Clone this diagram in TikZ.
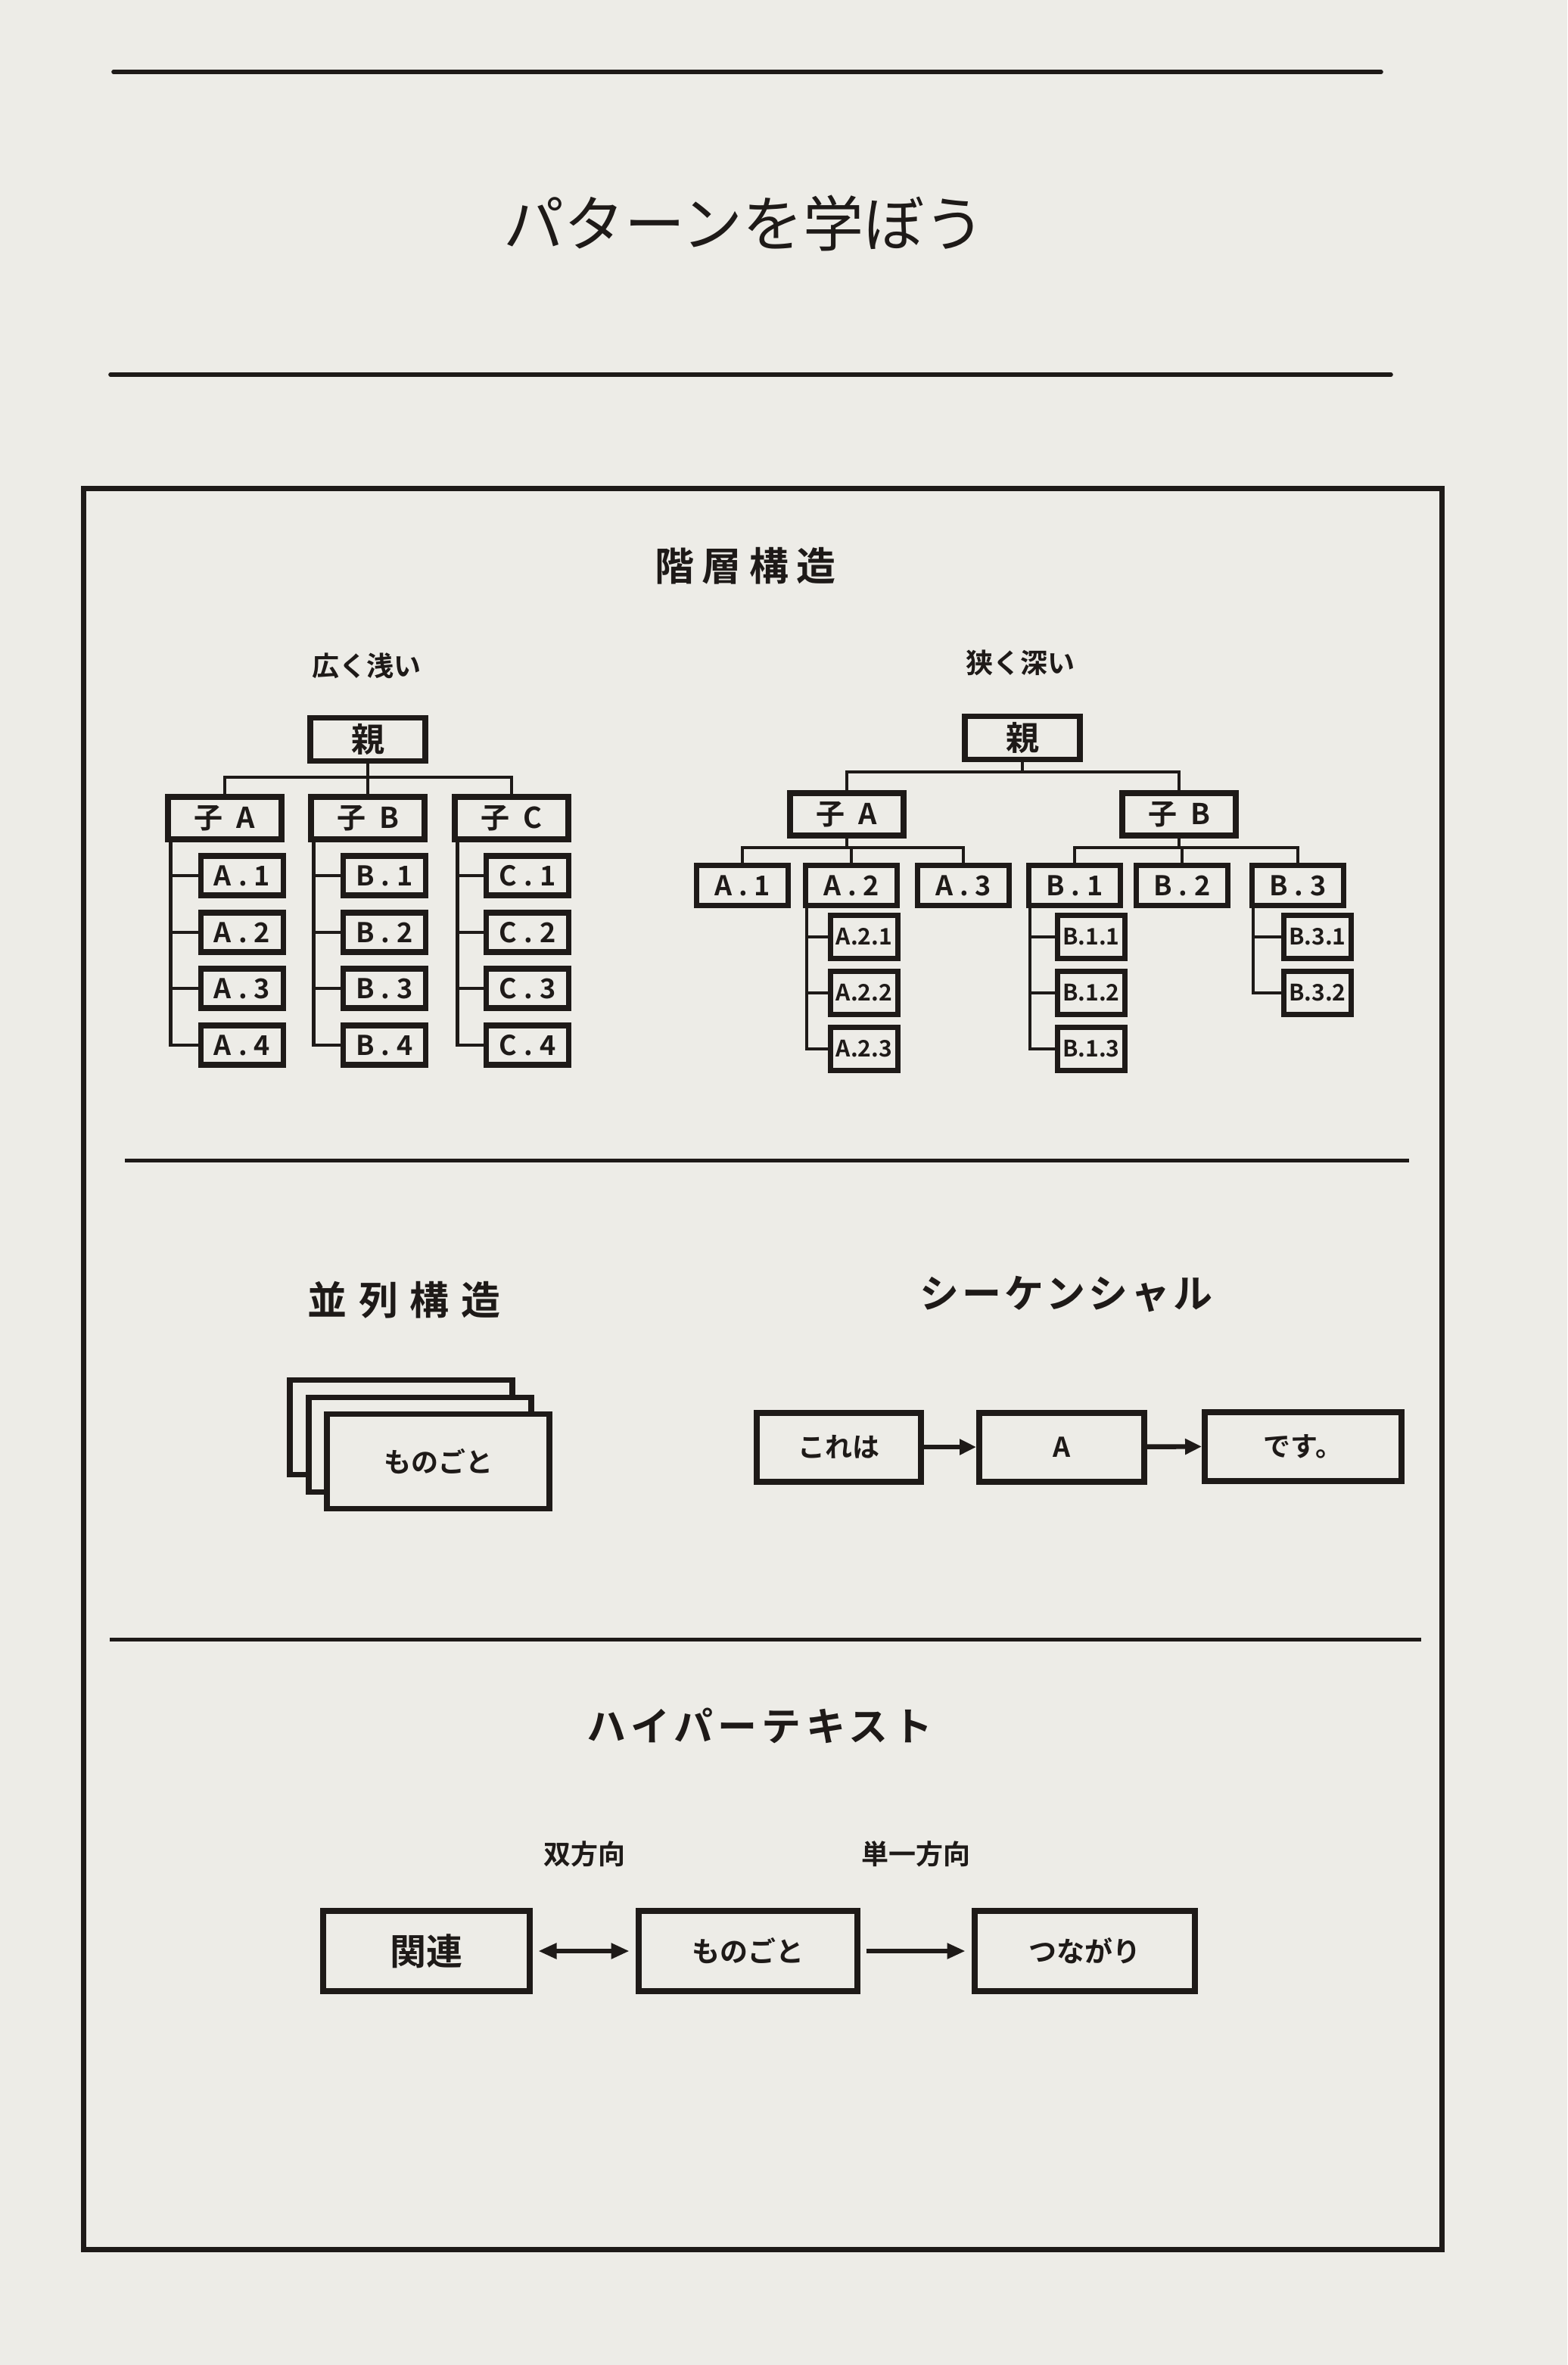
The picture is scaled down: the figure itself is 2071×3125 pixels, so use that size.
\documentclass[tikz,border=0pt]{standalone}
\usepackage{fontspec}
\usepackage{tikz}
\usetikzlibrary{arrows.meta}
\newfontfamily\jp{Noto Sans CJK JP}
\newfontfamily\jpb{Noto Sans CJK JP Bold}
\newfontfamily\jpl{Noto Sans CJK JP Bold}[LetterSpace=25]
\definecolor{paper}{HTML}{EDECE7}
\definecolor{ink}{HTML}{1E1A18}

\begin{document}
\begin{tikzpicture}[x=0.25pt,y=0.25pt,yscale=-1,xscale=1,
  box/.style={draw=ink, line width=1.8pt, fill=paper, inner sep=0pt, text=ink},
  oyabox/.style={box, minimum width=38pt, minimum height=14.25pt, font={\jpb\fontsize{11}{12}\selectfont}},
  kobox/.style={box, minimum width=37.5pt, minimum height=14pt, font={\jpl\fontsize{9.5}{10}\selectfont}},
  leafbox/.style={box, minimum width=27.25pt, minimum height=13pt, font={\jpl\fontsize{9}{10}\selectfont}},
  midbox/.style={box, minimum width=30.25pt, minimum height=13.25pt, font={\jpl\fontsize{9}{10}\selectfont}},
  tinybox/.style={box, minimum width=22.25pt, minimum height=14.25pt, font={\jpb\fontsize{7.5}{8}\selectfont}},
  cardbox/.style={box, minimum width=73.5pt, minimum height=31.25pt, font={\jpb\fontsize{9}{10}\selectfont}},
  seqbox/.style={box, line width=2pt, minimum width=54.25pt, minimum height=22.75pt, font={\jpb\fontsize{9}{10}\selectfont}},
  hyperbox/.style={box, line width=2pt, minimum width=72.25pt, minimum height=26.5pt, font={\jpb\fontsize{9.25}{10}\selectfont}},
  wire/.style={draw=ink, line width=1.1pt},
  seqarrow/.style={draw=ink, line width=1.6pt, -{Triangle[length=5.5pt,width=5pt]}},
  linkarrow/.style={draw=ink, line width=1.4pt, shorten <=2pt, shorten >=2pt},
  heading/.style={inner sep=0pt, text=ink, font={\jpb\addfontfeatures{LetterSpace=20}\fontsize{13}{15}\selectfont}},
  sublabel/.style={inner sep=0pt, text=ink, font={\jpb\fontsize{9}{10}\selectfont}},
  rule/.style={draw=ink, line width=1.4pt, line cap=round}
]
%Paper
\fill[paper] (0,0) rectangle (2071,3125);
\useasboundingbox (0,0) rectangle (2071,3125);

%Straight Lines
\draw[rule] (150,95) -- (1825,95) ;
% Text Node
\node (title) at (983,295) [inner sep=0pt, text=ink, font={\jp\fontsize{20}{24}\selectfont}] {パターンを学ぼう};
%Straight Lines
\draw[rule] (146,495) -- (1838,495) ;

%Shape: Rectangle
\draw[draw=ink, line width=1.75pt] (110,645) rectangle (1905,2972) ;
%Straight Lines
\draw[draw=ink, line width=1.25pt] (165,1533) -- (1862,1533) ;
%Straight Lines
\draw[draw=ink, line width=1.25pt] (145,2166) -- (1878,2166) ;

% Text Node
\node[heading] (hier) at (985,748) {階層構造};
% Text Node
\node[sublabel] (wide) at (484,880) {広く浅い};
% Text Node
\node[sublabel] (deep) at (1348,876) {狭く深い};

%Shape: Rectangle (left tree)
\node[oyabox] (Loya) at (486,977) {親};
\node[kobox] (LkoA) at (297,1081) {子 A};
\node[kobox] (LkoB) at (486,1081) {子 B};
\node[kobox] (LkoC) at (676,1081) {子 C};
\node[leafbox] (LA1) at (320,1157) {A.1};
\node[leafbox] (LA2) at (320,1232) {A.2};
\node[leafbox] (LA3) at (320,1306) {A.3};
\node[leafbox] (LA4) at (320,1381) {A.4};
\node[leafbox] (LB1) at (508,1157) {B.1};
\node[leafbox] (LB2) at (508,1232) {B.2};
\node[leafbox] (LB3) at (508,1306) {B.3};
\node[leafbox] (LB4) at (508,1381) {B.4};
\node[leafbox] (LC1) at (697,1157) {C.1};
\node[leafbox] (LC2) at (697,1232) {C.2};
\node[leafbox] (LC3) at (697,1306) {C.3};
\node[leafbox] (LC4) at (697,1381) {C.4};

%Straight Lines (left tree)
\coordinate (Ljoin) at (486,1027);
\draw[wire] (Loya.south) -- (LkoB.north) ;
\draw[wire] (LkoA.north) |- (Ljoin) -| (LkoC.north) ;
\coordinate (LAv) at ([xshift=1.75pt]LkoA.south west);
\coordinate (LBv) at ([xshift=1.75pt]LkoB.south west);
\coordinate (LCv) at ([xshift=1.75pt]LkoC.south west);
\draw[wire] (LAv) |- (LA4.west) ;
\draw[wire] (LA1.west -| LAv) -- (LA1.west) ;
\draw[wire] (LA2.west -| LAv) -- (LA2.west) ;
\draw[wire] (LA3.west -| LAv) -- (LA3.west) ;
\draw[wire] (LBv) |- (LB4.west) ;
\draw[wire] (LB1.west -| LBv) -- (LB1.west) ;
\draw[wire] (LB2.west -| LBv) -- (LB2.west) ;
\draw[wire] (LB3.west -| LBv) -- (LB3.west) ;
\draw[wire] (LCv) |- (LC4.west) ;
\draw[wire] (LC1.west -| LCv) -- (LC1.west) ;
\draw[wire] (LC2.west -| LCv) -- (LC2.west) ;
\draw[wire] (LC3.west -| LCv) -- (LC3.west) ;

%Shape: Rectangle (right tree)
\node[oyabox] (Roya) at (1351,975) {親};
\node[kobox] (RkoA) at (1119,1076) {子 A};
\node[kobox] (RkoB) at (1558,1076) {子 B};
\node[midbox] (RA1) at (981,1170) {A.1};
\node[midbox] (RA2) at (1125,1170) {A.2};
\node[midbox] (RA3) at (1273,1170) {A.3};
\node[midbox] (RB1) at (1420,1170) {B.1};
\node[midbox] (RB2) at (1562,1170) {B.2};
\node[midbox] (RB3) at (1715,1170) {B.3};
\node[tinybox] (RA21) at (1142,1238) {A.2.1};
\node[tinybox] (RA22) at (1142,1312) {A.2.2};
\node[tinybox] (RA23) at (1142,1386) {A.2.3};
\node[tinybox] (RB11) at (1442,1238) {B.1.1};
\node[tinybox] (RB12) at (1442,1312) {B.1.2};
\node[tinybox] (RB13) at (1442,1386) {B.1.3};
\node[tinybox] (RB31) at (1741,1238) {B.3.1};
\node[tinybox] (RB32) at (1741,1312) {B.3.2};

%Straight Lines (right tree)
\coordinate (Rjoin) at (1351,1020);
\draw[wire] (Roya.south) -- (Rjoin) ;
\draw[wire] (RkoA.north) |- (Rjoin) -| (RkoB.north) ;
\coordinate (RAjoin) at (1119,1120);
\draw[wire] (RkoA.south) -- (RAjoin) ;
\draw[wire] (RA1.north) |- (RAjoin) -| (RA3.north) ;
\draw[wire] (RA2.north) -- (RA2.north |- RAjoin) ;
\coordinate (RBjoin) at (1558,1120);
\draw[wire] (RkoB.south) -- (RBjoin) ;
\draw[wire] (RB1.north) |- (RBjoin) -| (RB3.north) ;
\draw[wire] (RB2.north) -- (RB2.north |- RBjoin) ;
\coordinate (RA2v) at ([xshift=1.25pt]RA2.south west);
\coordinate (RB1v) at ([xshift=1.25pt]RB1.south west);
\coordinate (RB3v) at ([xshift=1.25pt]RB3.south west);
\draw[wire] (RA2v) |- (RA23.west) ;
\draw[wire] (RA21.west -| RA2v) -- (RA21.west) ;
\draw[wire] (RA22.west -| RA2v) -- (RA22.west) ;
\draw[wire] (RB1v) |- (RB13.west) ;
\draw[wire] (RB11.west -| RB1v) -- (RB11.west) ;
\draw[wire] (RB12.west -| RB1v) -- (RB12.west) ;
\draw[wire] (RB3v) |- (RB32.west) ;
\draw[wire] (RB31.west -| RB3v) -- (RB31.west) ;

% Text Node
\node[heading, font={\jpb\addfontfeatures{LetterSpace=30}\fontsize{13}{15}\selectfont}] (para) at (534,1718) {並列構造};
% Text Node
\node[heading, font={\jpb\addfontfeatures{LetterSpace=8}\fontsize{13}{15}\selectfont}] (seqt) at (1409,1710) {シーケンシャル};

%Shape: Rectangle (cards)
\node[cardbox] (card3) at (530,1886) {};
\node[cardbox] (card2) at (555,1909) {};
\node[cardbox] (card1) at (579,1931) {ものごと};

%Shape: Rectangle (sequence)
\node[seqbox] (kore) at (1108,1912) {これは};
\node[seqbox, minimum width=54.5pt] (seqA) at (1403,1912) {A};
\node[seqbox, minimum width=65pt] (desu) at (1722,1911) {です。};
%Straight Lines
\draw[seqarrow] (kore) -- (seqA) ;
\draw[seqarrow] (seqA) -- (desu) ;

% Text Node
\node[heading, font={\jpb\addfontfeatures{LetterSpace=12}\fontsize{13}{15}\selectfont}] (hyper) at (1004,2280) {ハイパーテキスト};
% Text Node
\node[sublabel] (bidir) at (772,2450) {双方向};
% Text Node
\node[sublabel] (unidir) at (1210,2450) {単一方向};

%Shape: Rectangle (hypertext)
\node[hyperbox, minimum width=68.25pt, font={\jpb\fontsize{12}{14}\selectfont}] (kanren) at (563,2578) {関連};
\node[hyperbox] (mono) at (988,2578) {ものごと};
\node[hyperbox, minimum width=72.75pt] (tsuna) at (1433,2578) {つながり};
%Straight Lines
\draw[linkarrow, {Triangle[length=6pt,width=5pt]}-{Triangle[length=6pt,width=5pt]}] (kanren) -- (mono) ;
\draw[linkarrow, -{Triangle[length=6pt,width=5pt]}] (mono) -- (tsuna) ;

\end{tikzpicture}
\end{document}
